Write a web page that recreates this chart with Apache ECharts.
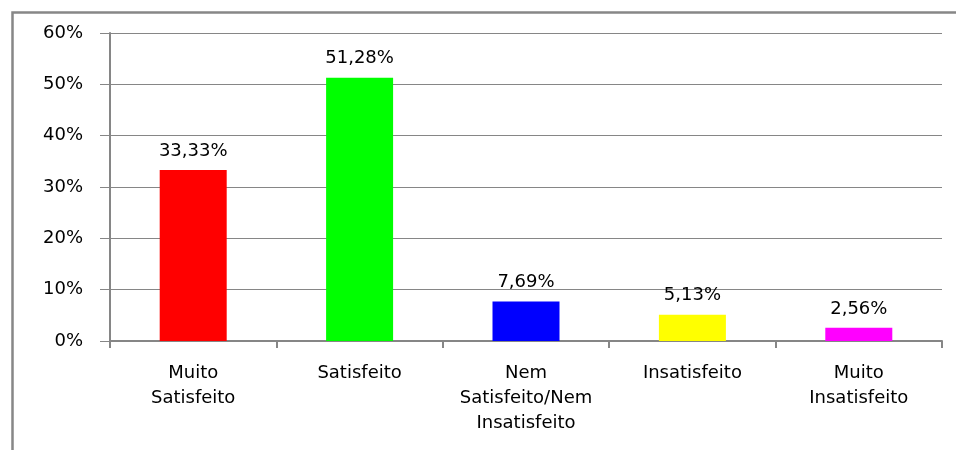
<!DOCTYPE html>
<html><head><meta charset="utf-8">
<script src="https://cdn.jsdelivr.net/npm/echarts@6/dist/echarts.min.js"></script>
<style>html,body{margin:0;padding:0;background:#fff}#c{width:956px;height:450px}</style>
</head><body><div id="c"></div>
<script>
const categories = ['Muito\nSatisfeito', 'Satisfeito', 'Nem\nSatisfeito/Nem\nInsatisfeito', 'Insatisfeito', 'Muito\nInsatisfeito'];
const values = [33.33, 51.28, 7.69, 5.13, 2.56];
const colors = ['#FF0000', '#00FF00', '#0000FF', '#FFFF00', '#FF00FF'];
const yTicks = [0, 10, 20, 30, 40, 50, 60];

const FONT = 'DejaVu Sans';
const chart = echarts.init(document.getElementById('c'), null, {renderer: 'canvas'});
chart.setOption({
  animation: false,
  backgroundColor: '#fff',
  graphic: [{
    type: 'rect', left: 10, top: 10,
    shape: {width: 960, height: 460},
    style: {fill: 'none', stroke: '#878787', lineWidth: 2.5}
  }],
  grid: {left: 110, right: 14, top: 33, bottom: 109},
  xAxis: {
    type: 'category',
    data: categories,
    axisLine: {lineStyle: {color: '#868686', width: 2}},
    axisTick: {show: true, length: 7, lineStyle: {color: '#868686', width: 2}},
    axisLabel: {fontFamily: FONT, fontSize: 18, color: '#000', lineHeight: 25, margin: 20, interval: 0}
  },
  yAxis: {
    type: 'value', min: yTicks[0], max: yTicks[yTicks.length - 1], interval: 10,
    axisLine: {show: true, lineStyle: {color: '#868686', width: 2}},
    axisTick: {show: true, length: 10, lineStyle: {color: '#868686', width: 1}},
    splitLine: {lineStyle: {color: '#868686', width: 1}},
    axisLabel: {fontFamily: FONT, fontSize: 18, color: '#000', margin: 27, formatter: v => v + '%'}
  },
  series: [{
    type: 'bar',
    barWidth: 67,
    data: values.map((v, i) => ({value: v, itemStyle: {color: colors[i]}})),
    label: {
      show: true, position: 'top', distance: 10,
      fontFamily: FONT, fontSize: 18, color: '#000',
      formatter: p => p.value.toFixed(2).replace('.', ',') + '%'
    }
  }]
});
</script></body></html>
